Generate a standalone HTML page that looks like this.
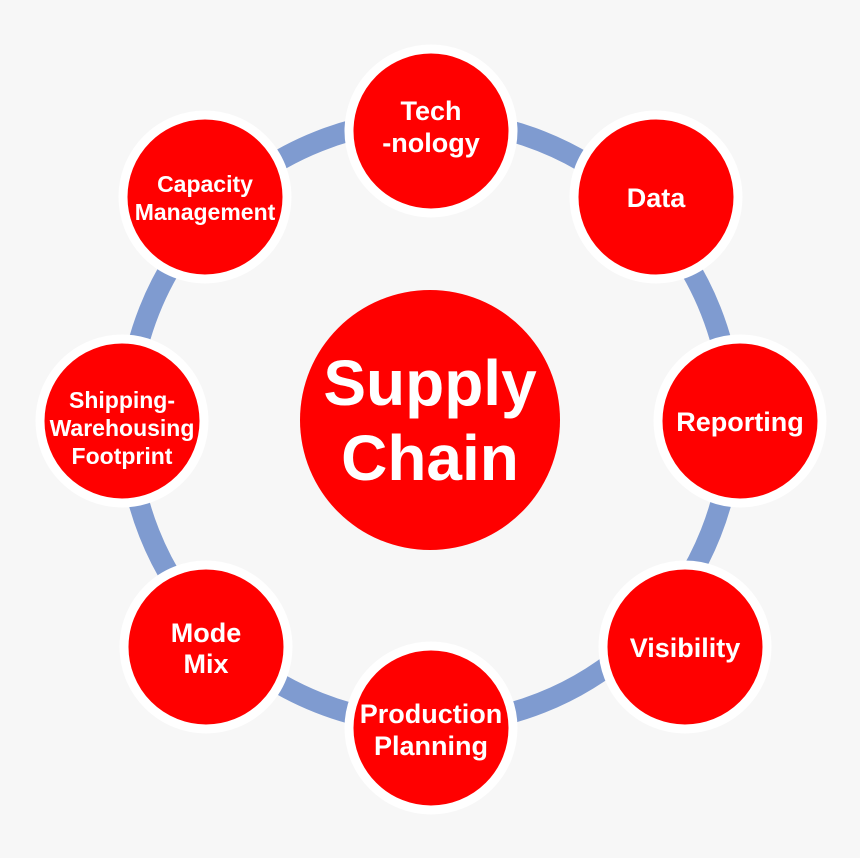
<!DOCTYPE html>
<html><head><style>
html,body{margin:0;padding:0;background:#f7f7f7;}
svg{display:block;}
text{font-family:"Liberation Sans",sans-serif;font-weight:bold;fill:#fff;text-anchor:middle;}
</style></head><body>
<svg width="860" height="858" viewBox="0 0 860 858">
<rect width="860" height="858" fill="#f7f7f7"/>
<circle cx="430" cy="422" r="302" fill="none" stroke="#7f9bd0" stroke-width="21"/>
<g stroke="#fff" stroke-width="9" fill="#ff0000">
<circle cx="431" cy="131" r="82"/>
<circle cx="656" cy="197" r="82"/>
<circle cx="740" cy="421" r="82"/>
<circle cx="685" cy="647" r="82"/>
<circle cx="431" cy="728" r="82"/>
<circle cx="206" cy="647" r="82"/>
<circle cx="122" cy="421" r="82"/>
<circle cx="205" cy="197" r="82"/>
<circle cx="430" cy="420" r="130" stroke="none"/>
</g>
<text x="430" y="405" font-size="64">Supply</text>
<text x="430" y="480" font-size="64">Chain</text>
<text x="431" y="120" font-size="27">Tech</text>
<text x="431" y="152" font-size="27">-nology</text>
<text x="656" y="207" font-size="27">Data</text>
<text x="740" y="431" font-size="27">Reporting</text>
<text x="685" y="657" font-size="27">Visibility</text>
<text x="431" y="723" font-size="27">Production</text>
<text x="431" y="755" font-size="27">Planning</text>
<text x="206" y="642" font-size="27">Mode</text>
<text x="206" y="673" font-size="27">Mix</text>
<text x="122" y="408" font-size="23">Shipping-</text>
<text x="122" y="436" font-size="23">Warehousing</text>
<text x="122" y="464" font-size="23">Footprint</text>
<text x="205" y="192" font-size="23">Capacity</text>
<text x="205" y="220" font-size="23">Management</text>
</svg>
</body></html>
